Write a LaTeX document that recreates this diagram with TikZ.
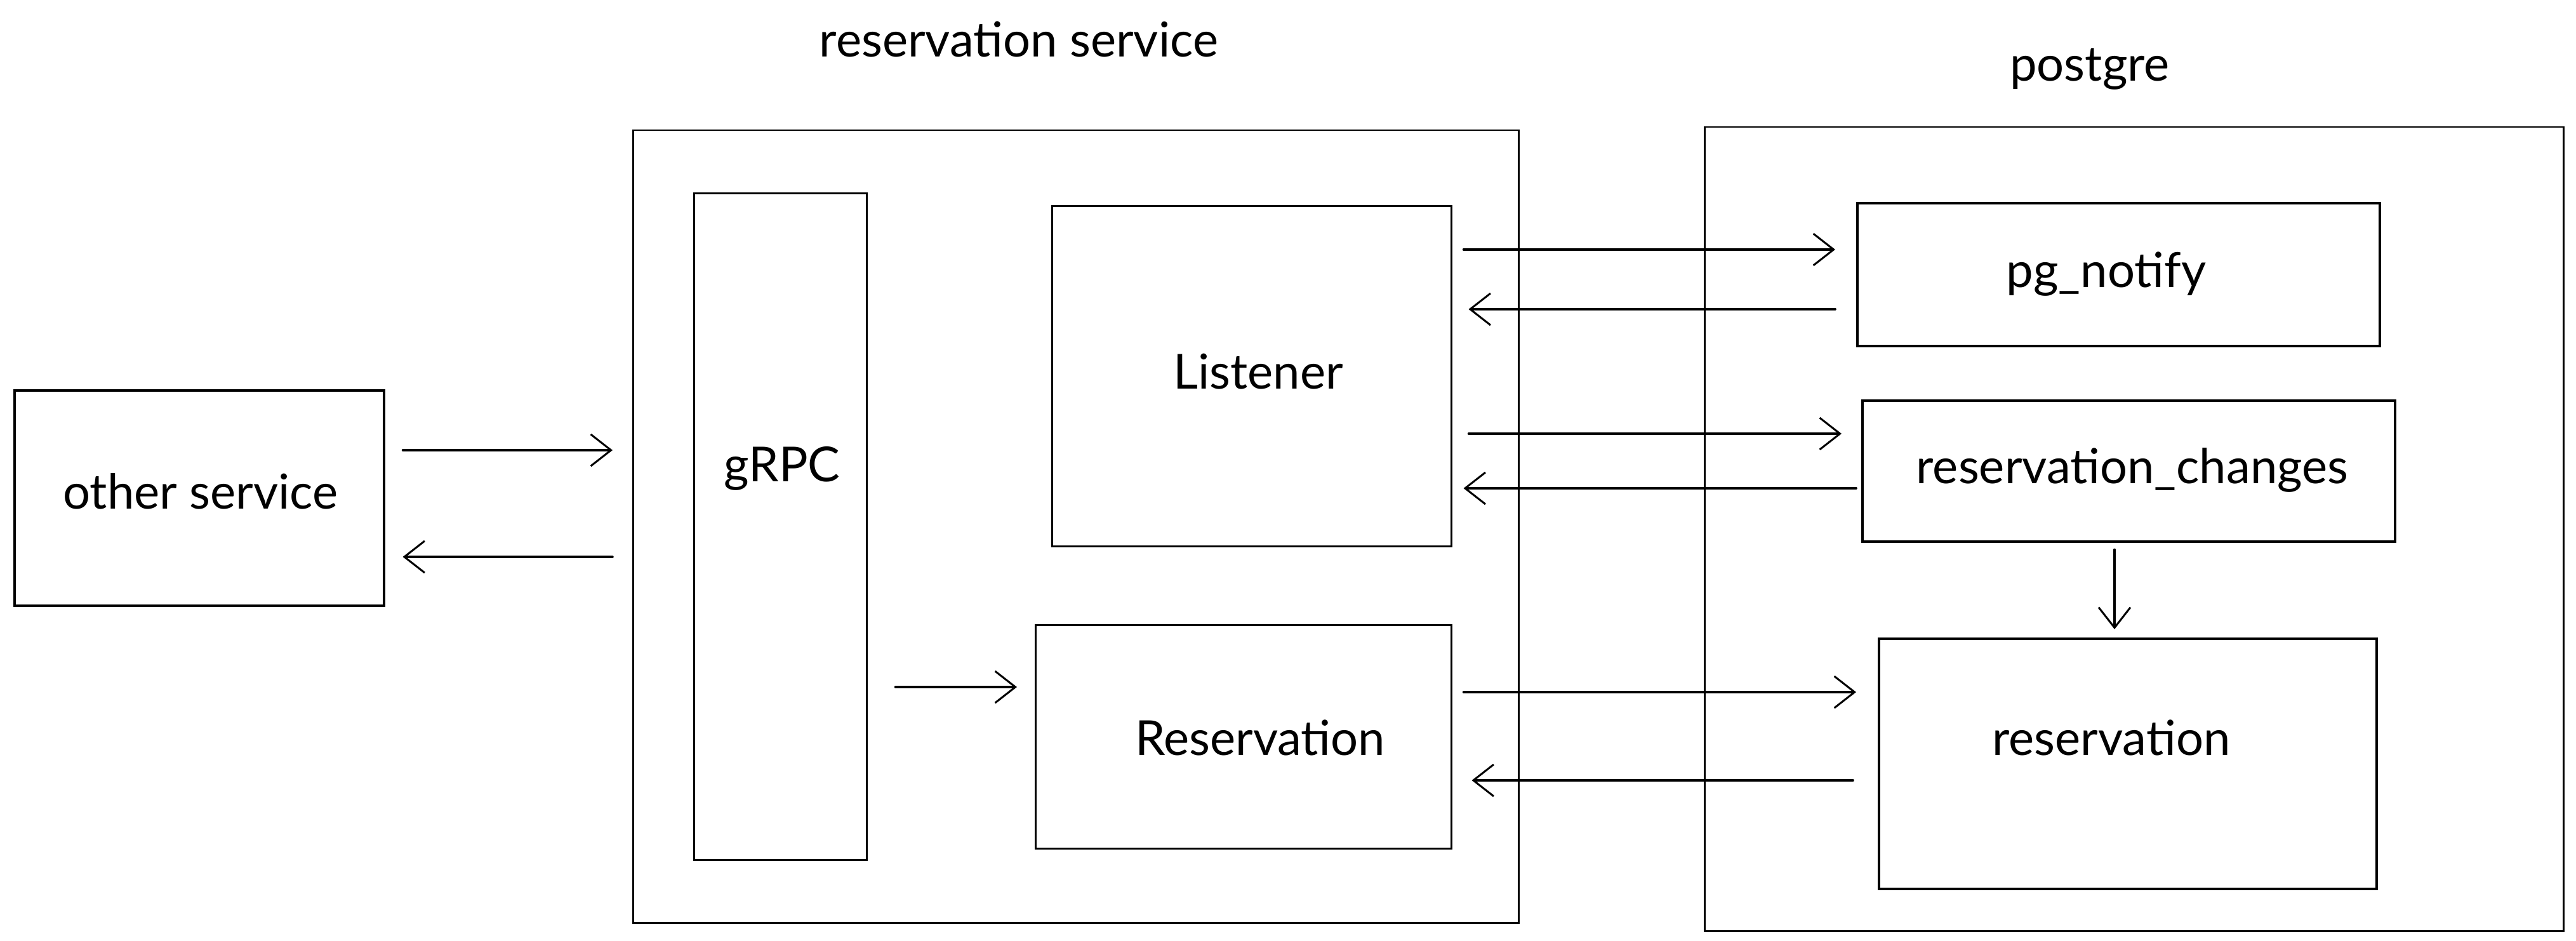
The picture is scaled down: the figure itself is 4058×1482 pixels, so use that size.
\documentclass[tikz,border=0pt]{standalone}
\usepackage{fontspec}
\setmainfont{Lato}
\usetikzlibrary{arrows.meta}
\begin{document}
\begin{tikzpicture}[x=1pt,y=-1pt,
  box/.style={draw=black, line width=3.5pt, inner sep=0pt, anchor=north west},
  outer/.style={draw=black, line width=2.5pt, inner sep=0pt, anchor=north west},
  lbl/.style={font=\fontsize{76}{90}\selectfont, inner sep=0pt},
  arr/.style={line width=3.5pt, line cap=round, -{Straight Barb[length=32pt,width=50pt,line width=3pt]}}
]
\useasboundingbox[fill=white] (0,0) rectangle (4058,1482);

% outer containers
\node[outer, minimum width=1395pt, minimum height=1248pt] (rs) at (996,204) {};
\node[outer, minimum width=1353pt, minimum height=1266pt] (pgc) at (2684,199) {};
\node[lbl] (rstitle) at (1605,62) {reservation service};
\node[lbl] (pgtitle) at (3292,109) {postgre};

% left
\node[box, minimum width=582pt, minimum height=339pt] (other) at (21,613) {};
\node[lbl] (tother) at (316,774) {other service};

% reservation service
\node[outer, line width=2.5pt, minimum width=272pt, minimum height=1050pt] (grpc) at (1092,303) {};
\node[lbl] (tgrpc) at (1232,738) {gRPC};
\node[outer, minimum width=629pt, minimum height=536pt] (lis) at (1656,323) {};
\node[lbl] (tlis) at (1982,585) {Listener};
\node[outer, minimum width=655pt, minimum height=352pt] (res) at (1630,983) {};
\node[lbl] (tres) at (1985,1162) {Reservation};

% postgre
\node[box, minimum width=823pt, minimum height=225pt] (pg) at (2924,318) {};
\node[lbl] (tpg) at (3318,432) {pg\_notify};
\node[box, minimum width=839pt, minimum height=222pt] (ch) at (2932,629) {};
\node[lbl] (tch) at (3359,740) {reservation\_changes};
\node[box, minimum width=784pt, minimum height=394pt] (db) at (2958,1004) {};
\node[lbl] (tdb) at (3326,1162) {reservation};

% connectors
\draw[arr] ([shift={(28,96)}]other.north east) -- ([shift={(-31,505)}]rs.north west);
\draw[arr] ([shift={(-31,673)}]rs.north west) -- ([shift={(28,264)}]other.north east);
\draw[arr] ([shift={(44,779)}]grpc.north east) -- ([shift={(-28,99)}]res.north west);

\draw[arr] ([shift={(18,70)}]lis.north east) -- ([shift={(-33,75)}]pg.north west);
\draw[arr] ([shift={(-33,169)}]pg.north west) -- ([shift={(26,164)}]lis.north east);
\draw[arr] ([shift={(26,360)}]lis.north east) -- ([shift={(-31,54)}]ch.north west);
\draw[arr] ([shift={(-8,140)}]ch.north west) -- ([shift={(18,446)}]lis.north east);
\draw[arr] ([shift={(399,11)}]ch.south west) -- ([shift={(373,-13)}]db.north west);
\draw[arr] ([shift={(18,107)}]res.north east) -- ([shift={(-34,86)}]db.north west);
\draw[arr] ([shift={(-39,225)}]db.north west) -- ([shift={(31,246)}]res.north east);
\end{tikzpicture}
\end{document}
